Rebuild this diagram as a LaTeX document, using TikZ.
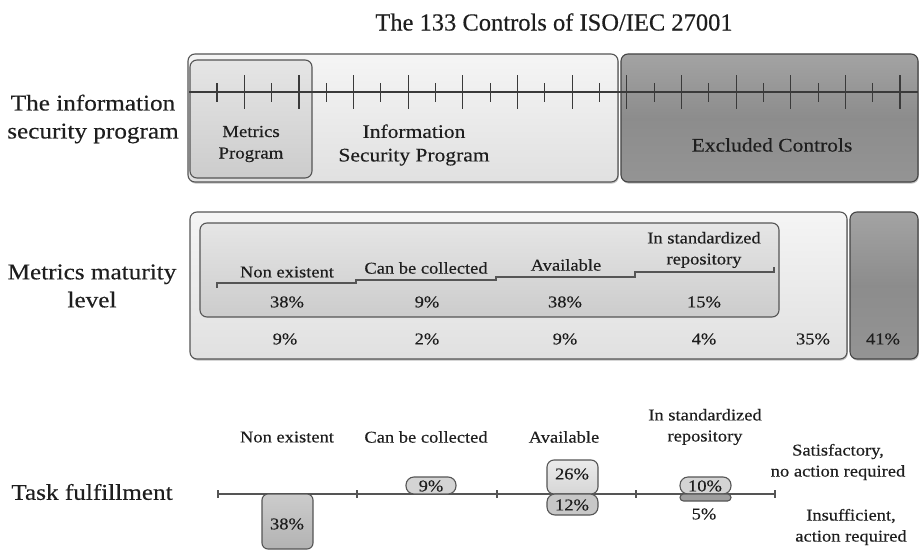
\documentclass[tikz,border=0pt]{standalone}
\usepackage{fontspec}
\setmainfont[FakeStretch=1.12,FakeBold=0.35]{Liberation Serif}
\newfontfamily\titlefont[FakeBold=0.35]{Liberation Serif}
\usetikzlibrary{shadows}
\definecolor{txtc}{HTML}{1E1E1E}
\definecolor{edge}{HTML}{555555}
\definecolor{axisc}{HTML}{3A3A3A}
\begin{document}
\begin{tikzpicture}[x=1pt,y=-1pt,
  txt/.style={text=txtc, inner sep=0pt, align=center, font=\fontsize{16.5}{21}\selectfont},
  bigtxt/.style={txt, font=\fontsize{22.5}{28}\selectfont},
  midtxt/.style={txt, font=\fontsize{19.2}{23.5}\selectfont},
  smalltxt/.style={txt, font=\fontsize{16.8}{21.5}\selectfont},
  shd/.style={drop shadow={shadow xshift=0.8pt, shadow yshift=-1.6pt, opacity=0.35, fill=black!70}},
  lightbox/.style={draw=edge, line width=1.1pt, rounded corners=7pt, top color=white!96!black, bottom color=white!88!black, shd},
  midbox/.style={draw=edge, line width=1.1pt, rounded corners=7pt, top color=white!90!black, bottom color=white!80!black},
  darkbox/.style={draw=edge!80!black, line width=1.1pt, rounded corners=7pt, top color=black!36, bottom color=black!42, middle color=black!45, shd},
  pill/.style={draw=edge, line width=1.1pt, inner sep=0pt},
  axisline/.style={draw=axisc, line width=1.1pt},
  stair/.style={draw=edge, line width=1.2pt},
]
\useasboundingbox (0,0) rectangle (920,551);

% title
\node[txt, font=\titlefont\fontsize{24.5}{28}\selectfont] (title) at (554,22) {The 133 Controls of ISO/IEC 27001};

% ---------- row 1 ----------
\node[bigtxt] (l1) at (93,119) {The information\\security program};
\path[lightbox] (188,54) rectangle (618,182);
\path[darkbox] (621,54) rectangle (918,182);
\path[midbox] (190,60) rectangle (312,178);
\node[smalltxt] (mp) at (251,144) {Metrics\\Program};
\node[midtxt] (ispt) at (414,145) {Information\\Security Program};
\node[midtxt] (exc) at (772,145) {Excluded Controls};
\coordinate (axL) at (189,92);
\coordinate (axR) at (918,92);
\draw[axisline] (axL) -- (axR);
\foreach \i in {0,...,25}{
  \pgfmathsetmacro{\xx}{217+27.32*\i}
  \ifodd\i
    \draw[axisline] (\xx,75) -- (\xx,109);
  \else
    \draw[axisline] (\xx,83) -- (\xx,102);
  \fi
}

% ---------- row 2 ----------
\node[bigtxt] (l2) at (92,286) {Metrics maturity\\level};
\path[lightbox] (190,212) rectangle (847,359);
\path[darkbox] (850,212) rectangle (918,359);
\path[midbox] (200,223) rectangle (779,317);
\draw[stair] (217,288) -- (217,283) -- (356,283) -- (356,280) -- (496,280) -- (496,277) -- (635,277) -- (635,272) -- (774,272) -- (774,267);
\node[txt] (m1) at (287,272) {Non existent};
\node[txt] (m2) at (426,268) {Can be collected};
\node[txt] (m3) at (566,265) {Available};
\node[txt] (m4) at (704,250) {In standardized\\repository};
\node[txt] (p1) at (287,302) {38\%};
\node[txt] (p2) at (427,302) {9\%};
\node[txt] (p3) at (565,302) {38\%};
\node[txt] (p4) at (704,302) {15\%};
\node[txt] (q1) at (285,339) {9\%};
\node[txt] (q2) at (427,339) {2\%};
\node[txt] (q3) at (565,339) {9\%};
\node[txt] (q4) at (704,339) {4\%};
\node[txt] (q5) at (813,339) {35\%};
\node[txt] (q6) at (883,339) {41\%};

% ---------- row 3 ----------
\node[bigtxt] (l3) at (92,492) {Task fulfillment};
\node[txt] (t1) at (287,437) {Non existent};
\node[txt] (t2) at (426,437) {Can be collected};
\node[txt] (t3) at (564,437) {Available};
\node[txt] (t4) at (705,427) {In standardized\\repository};
\node[txt] (sat) at (838,462) {Satisfactory,\\no action required};
\node[txt] (ins) at (851,527) {Insufficient,\\action required};

\coordinate (a0) at (218,494);
\coordinate (a4) at (775,494);
\draw[axisline, draw=edge] (a0) -- (a4);
\foreach \xx in {218,357,497,636,775}{
  \draw[axisline, draw=edge] (\xx,490) -- (\xx,498);
}
% boxes
\path[pill, rounded corners=6pt, top color=black!20, bottom color=black!30] (262,494) rectangle (313,549);
\node[txt] (b38) at (287,524) {38\%};
\path[pill, rounded corners=8pt, fill=black!17] (406,477) rectangle (456,494);
\node[txt] (b9) at (431,486) {9\%};
\path[pill, rounded corners=7pt, top color=black!8, bottom color=black!16] (547,460) rectangle (598,494);
\node[txt] (b26) at (572,474) {26\%};
\path[pill, rounded corners=8pt, fill=black!22] (547,494) rectangle (598,515);
\node[txt] (b12) at (572,505) {12\%};
\path[pill, rounded corners=8pt, fill=black!17] (680,477) rectangle (731,494);
\node[txt] (b10) at (705,486) {10\%};
\path[pill, rounded corners=3.5pt, fill=black!38] (680,494) rectangle (731,501);
\node[txt] (b5) at (704,514) {5\%};
\end{tikzpicture}
\end{document}
